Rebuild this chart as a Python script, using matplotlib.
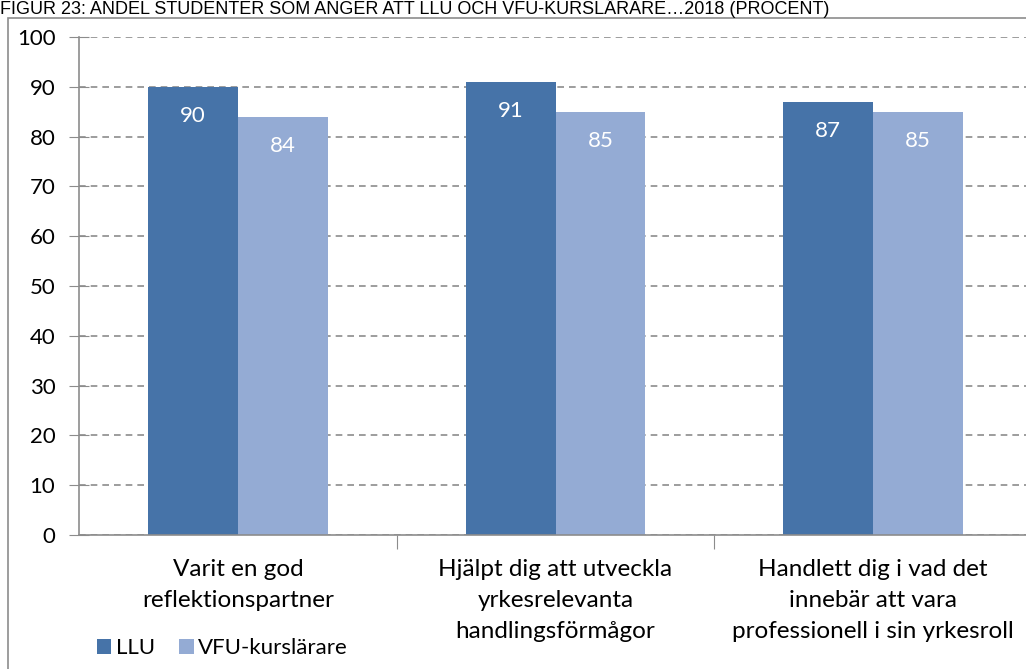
import numpy as np
from matplotlib import pyplot as plt
from matplotlib.patches import Rectangle

categories = ["Varit en god\nreflektionspartner",
              "Hjälpt dig att utveckla\nyrkesrelevanta\nhandlingsförmågor",
              "Handlett dig i vad det\ninnebär att vara\nprofessionell i sin yrkesroll"]
llu = [90, 91, 87]
vfu = [84, 85, 85]
series_names = ["LLU", "VFU-kurslärare"]
title = "FIGUR 23: ANDEL STUDENTER SOM ANGER ATT LLU OCH VFU-KURSLÄRARE\u20262018 (PROCENT)"

dark = "#4673a8"
light = "#94abd4"

plt.rcParams['font.family'] = ['Lato', 'DejaVu Sans']

W, H = 1026, 669
fig = plt.figure(figsize=(W / 100, H / 100), dpi=100)

# outer chart frame (partly outside the picture)
fig.patches.append(Rectangle((8 / W, -0.05), 1.1, 1 - 18 / H + 0.05,
                             transform=fig.transFigure, fill=False,
                             edgecolor="#8c8c8c", lw=1.2))
fig.text(0, 1 - 14 / H, title, fontsize=13, family="Liberation Sans",
         ha="left", va="baseline")

ax = fig.add_axes([79 / W, 1 - 535 / H, (1032 - 79) / W, (535 - 37) / H])
x = np.arange(len(categories))
bw = 90 / 318
b1 = ax.bar(x - bw / 2, llu, bw, color=dark, label=series_names[0])
b2 = ax.bar(x + bw / 2, vfu, bw, color=light, label=series_names[1])
for bars in (b1, b2):
    for r in bars:
        ax.text(r.get_x() + r.get_width() / 2, r.get_height() - 3.9, f"{r.get_height():.0f}",
                ha="center", va="top", color="white", fontsize=16)

ax.set_xlim(-0.5, 2.5)
ax.set_ylim(0, 100)
ax.set_yticks(range(0, 101, 10))
ax.tick_params(axis="y", labelsize=16, direction="inout", length=14, color="#8c8c8c", pad=10)
ax.set_xticks([0.5, 1.5, 2.5])
ax.set_xticklabels([])
ax.set_xticks(x, categories, minor=True)
ax.tick_params(axis="x", which="major", direction="out", length=10, color="#8c8c8c")
ax.tick_params(axis="x", which="minor", length=0, labelsize=17.5, pad=17)
for t in ax.get_xticklabels(minor=True):
    t.set_linespacing(1.6)
ax.yaxis.grid(True, linestyle=(0, (4, 3)), color="#8c8c8c", lw=1.2)
ax.set_axisbelow(True)
for s in ["top", "right"]:
    ax.spines[s].set_visible(False)
for s in ["left", "bottom"]:
    ax.spines[s].set_color("#8c8c8c")
    ax.spines[s].set_linewidth(1.2)

fig.legend(handles=[b1, b2], labels=series_names, loc="lower left",
           bbox_to_anchor=(77 / W, -9 / H), ncol=2, frameon=False, fontsize=16,
           handlelength=0.65, handleheight=0.65, handletextpad=0.2, columnspacing=1.1)

fig.savefig("out.png", dpi=100)
